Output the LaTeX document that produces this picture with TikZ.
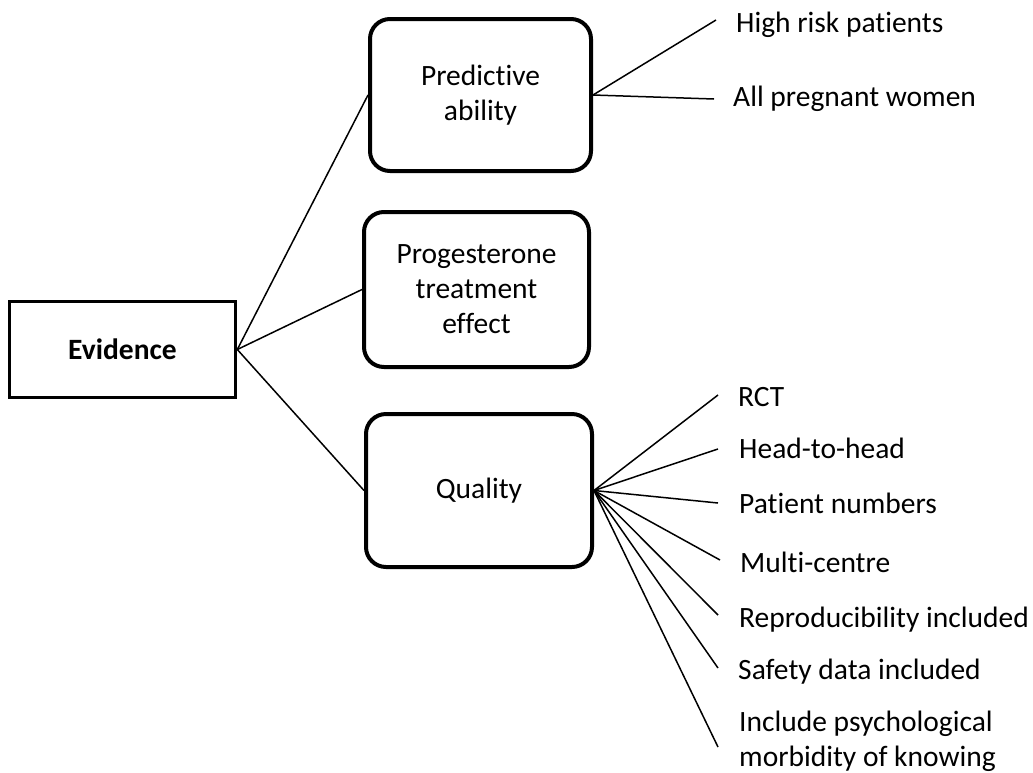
\documentclass[tikz,border=0pt]{standalone}
\usepackage{fontspec}
\setmainfont[Ligatures={NoCommon}]{Carlito}
\begin{document}
\begin{tikzpicture}[x=1pt,y=-1pt,
  every node/.style={font=\fontsize{29.5}{35}\selectfont},
  sqbox/.style={draw, line width=3.6pt, minimum width=226pt, minimum height=96pt, inner sep=0pt, font=\fontsize{29.5}{35}\selectfont\bfseries},
  rbox/.style={draw, line width=4pt, rounded corners=20pt, align=center, inner sep=0pt},
  link/.style={line width=1.5pt},
  leaf/.style={anchor=base west, inner sep=0pt, align=left}]
\useasboundingbox (0,0) rectangle (1033,772);
\node[sqbox] (ev) at (122.5,349.5) {Evidence};
\node[rbox, minimum width=221pt, minimum height=152pt] (pa) at (480.5,95) {Predictive\\ability};
\node[rbox, minimum width=225pt, minimum height=155pt] (pt) at (476.5,289.5) {Progesterone\\treatment\\effect};
\node[rbox, minimum width=226pt, minimum height=153pt] (qu) at (479,490.5) {Quality};
\draw[link] (ev.east) -- (pa.west);
\draw[link] (ev.east) -- (pt.west);
\draw[link] (ev.east) -- (qu.west);
% predictive leaves
\coordinate (e1) at (716,20);
\coordinate (e2) at (714,99);
\node[leaf] (t1) at (736,32) {High risk patients};
\node[leaf] (t2) at (733,106) {All pregnant women};
\draw[link] (pa.east) -- (e1);
\draw[link] (pa.east) -- (e2);
% quality leaves
\coordinate (q1) at (718,395);
\coordinate (q2) at (718,449);
\coordinate (q3) at (718,503);
\coordinate (q4) at (720,560);
\coordinate (q5) at (718,615);
\coordinate (q6) at (718,668);
\coordinate (q7) at (718,747);
\node[leaf] (r1) at (738,406) {RCT};
\node[leaf] (r2) at (739,458) {Head-to-head};
\node[leaf] (r3) at (739,513) {Patient numbers};
\node[leaf] (r4) at (740,572) {Multi-centre};
\node[leaf] (r5) at (739,627) {Reproducibility included};
\node[leaf] (r6) at (738,679) {Safety data included};
\node[leaf] (r7) at (739,766) {Include psychological\\morbidity of knowing};
\foreach \i in {1,...,7} \draw[link] (qu.east) -- (q\i);
\end{tikzpicture}
\end{document}
